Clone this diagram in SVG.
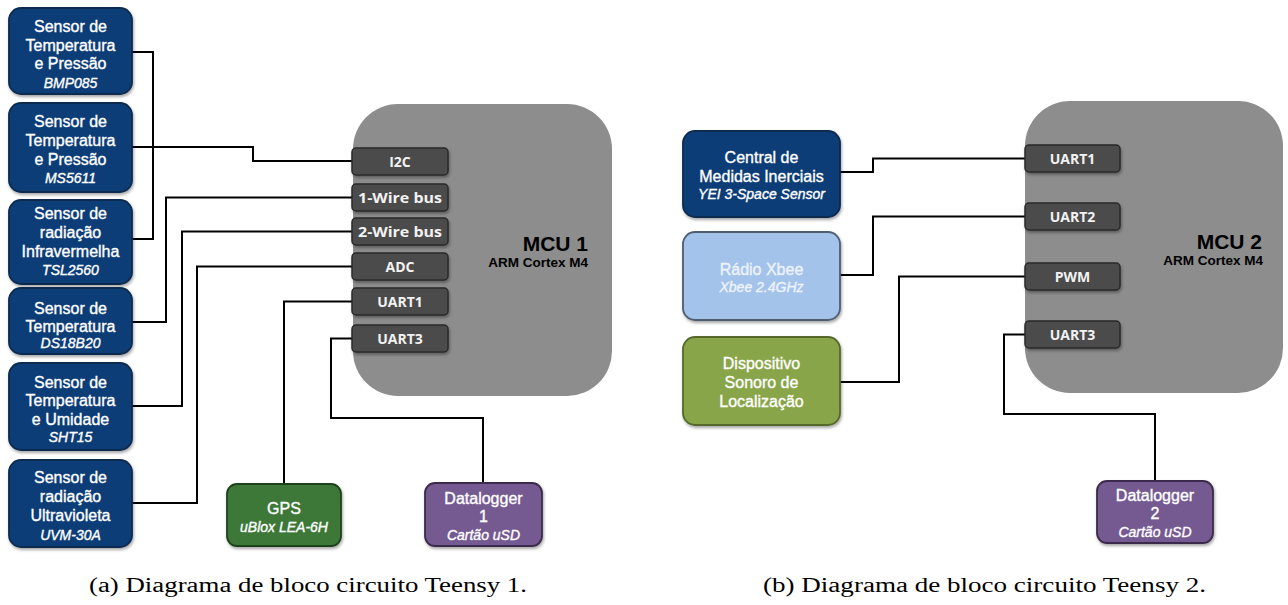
<svg xmlns="http://www.w3.org/2000/svg" width="1288" height="605" viewBox="0 0 1288 605">
<defs>
<filter id="sh" x="-10%" y="-10%" width="125%" height="130%">
<feDropShadow dx="1" dy="2" stdDeviation="1.5" flood-color="#000" flood-opacity="0.35"/>
</filter>
</defs>
<style>
.t{font-family:"Liberation Sans",Arial,sans-serif;font-size:16px;fill:#fff;stroke:#fff;stroke-width:0.35;text-anchor:middle}
.i{font-style:italic;font-size:14px}
.xb{fill:#eef3fb;stroke:#eef3fb}
.blue{fill:#0e3e77;stroke:#092a50;stroke-width:1.8}
.green{fill:#3d7837;stroke:#1f431c;stroke-width:1.8}
.olive{fill:#89a548;stroke:#56692b;stroke-width:1.8}
.light{fill:#a4c3ea;stroke:#4f5d70;stroke-width:1.8}
.purple{fill:#745a91;stroke:#3a2c4a;stroke-width:1.8}
.mcu{fill:#8d8d8d}
.port{fill:#4b4b4b;stroke:#2a2a2a;stroke-width:1.5}
.pt{font-family:"Open Sans","Liberation Sans",sans-serif;font-weight:bold;font-size:14px;fill:#f2f2f2;text-anchor:middle}
.ml{font-family:"Liberation Sans",Arial,sans-serif;font-weight:bold;fill:#000;text-anchor:end}
.c{fill:none;stroke:#000;stroke-width:2}
.cap{font-family:"Liberation Serif","Times New Roman",serif;font-size:20px;fill:#000}
</style>
<rect width="1288" height="605" fill="#fff"/>

<g id="connectors">
<path class="c" d="M132,52 H153 V239 H132"/>
<path class="c" d="M132,147 H253 V161 H352"/>
<path class="c" d="M352,197.5 H166 V322 H132"/>
<path class="c" d="M352,231.5 H182 V406 H132"/>
<path class="c" d="M352,266.5 H197 V503 H132"/>
<path class="c" d="M352,301.5 H284 V484"/>
<path class="c" d="M352,338.5 H331 V418 H483 V483"/>
<path class="c" d="M840,172 H873 V158.5 H1025"/>
<path class="c" d="M840,275 H873 V216.5 H1025"/>
<path class="c" d="M840,382 H899 V276.5 H1025"/>
<path class="c" d="M1025,334.5 H1004 V414 H1155 V481"/>
</g>

<g id="mcu1">
<rect class="mcu" x="353" y="104" width="259" height="292" rx="45"/>
<text class="ml" x="588" y="251" font-size="21">MCU 1</text>
<text class="ml" x="588" y="267" font-size="13.5">ARM Cortex M4</text>
</g>
<g id="mcu1-ports">
<g id="p-i2c"><rect class="port" filter="url(#sh)" x="352" y="148" width="96" height="27" rx="4"/><text class="pt" x="400" y="166.5">I2C</text></g>
<g id="p-1wire"><rect class="port" filter="url(#sh)" x="352" y="184" width="96" height="27" rx="4"/><text class="pt" x="400" y="202.5" textLength="84" lengthAdjust="spacingAndGlyphs">1-Wire bus</text></g>
<g id="p-2wire"><rect class="port" filter="url(#sh)" x="352" y="218" width="96" height="27" rx="4"/><text class="pt" x="400" y="236.5" textLength="84" lengthAdjust="spacingAndGlyphs">2-Wire bus</text></g>
<g id="p-adc"><rect class="port" filter="url(#sh)" x="352" y="253" width="96" height="27" rx="4"/><text class="pt" x="400" y="271.5">ADC</text></g>
<g id="p-uart1a"><rect class="port" filter="url(#sh)" x="352" y="288" width="96" height="27" rx="4"/><text class="pt" x="400" y="306.5">UART1</text></g>
<g id="p-uart3a"><rect class="port" filter="url(#sh)" x="352" y="325" width="96" height="27" rx="4"/><text class="pt" x="400" y="343.5">UART3</text></g>
</g>

<g id="s-bmp085">
<rect class="blue" filter="url(#sh)" x="9" y="8" width="123" height="86" rx="12"/>
<text class="t" x="70.5" y="31.5">Sensor de</text>
<text class="t" x="70.5" y="50.5">Temperatura</text>
<text class="t" x="70.5" y="69">e Pressão</text>
<text class="t i" x="70.5" y="88">BMP085</text>
</g>
<g id="s-ms5611">
<rect class="blue" filter="url(#sh)" x="9" y="103" width="123" height="89" rx="12"/>
<text class="t" x="70.5" y="126.5">Sensor de</text>
<text class="t" x="70.5" y="145.5">Temperatura</text>
<text class="t" x="70.5" y="165">e Pressão</text>
<text class="t i" x="70.5" y="183">MS5611</text>
</g>
<g id="s-tsl2560">
<rect class="blue" filter="url(#sh)" x="9" y="200" width="123" height="84" rx="12"/>
<text class="t" x="70.5" y="218.5">Sensor de</text>
<text class="t" x="70.5" y="237.5">radiação</text>
<text class="t" x="70.5" y="257">Infravermelha</text>
<text class="t i" x="70.5" y="275">TSL2560</text>
</g>
<g id="s-ds18b20">
<rect class="blue" filter="url(#sh)" x="9" y="288" width="123" height="66" rx="12"/>
<text class="t" x="70.5" y="313.5">Sensor de</text>
<text class="t" x="70.5" y="331.5">Temperatura</text>
<text class="t i" x="70.5" y="348">DS18B20</text>
</g>
<g id="s-sht15">
<rect class="blue" filter="url(#sh)" x="9" y="363" width="123" height="87" rx="12"/>
<text class="t" x="70.5" y="387.5">Sensor de</text>
<text class="t" x="70.5" y="405.5">Temperatura</text>
<text class="t" x="70.5" y="424.5">e Umidade</text>
<text class="t i" x="70.5" y="442">SHT15</text>
</g>
<g id="s-uvm30a">
<rect class="blue" filter="url(#sh)" x="9" y="460" width="123" height="87" rx="12"/>
<text class="t" x="70.5" y="482.5">Sensor de</text>
<text class="t" x="70.5" y="502">radiação</text>
<text class="t" x="70.5" y="521">Ultravioleta</text>
<text class="t i" x="70.5" y="540">UVM-30A</text>
</g>
<g id="gps">
<rect class="green" filter="url(#sh)" x="227" y="484" width="114" height="62" rx="10"/>
<text class="t" x="284" y="513.5">GPS</text>
<text class="t i" x="284" y="532">uBlox LEA-6H</text>
</g>
<g id="datalogger1">
<rect class="purple" filter="url(#sh)" x="425" y="483" width="117" height="63" rx="10"/>
<text class="t" x="483.5" y="503.5">Datalogger</text>
<text class="t" x="483.5" y="522">1</text>
<text class="t i" x="483.5" y="540">Cartão uSD</text>
</g>

<g id="mcu2">
<rect class="mcu" x="1025" y="101" width="258" height="292" rx="45"/>
<text class="ml" x="1262" y="249" font-size="21">MCU 2</text>
<text class="ml" x="1263" y="265" font-size="13.5">ARM Cortex M4</text>
</g>
<g id="mcu2-ports">
<g id="p-uart1b"><rect class="port" filter="url(#sh)" x="1025" y="145" width="95" height="27" rx="4"/><text class="pt" x="1072.5" y="163.5">UART1</text></g>
<g id="p-uart2b"><rect class="port" filter="url(#sh)" x="1025" y="203" width="95" height="27" rx="4"/><text class="pt" x="1072.5" y="221.5">UART2</text></g>
<g id="p-pwm"><rect class="port" filter="url(#sh)" x="1025" y="263" width="95" height="27" rx="4"/><text class="pt" x="1072.5" y="281.5">PWM</text></g>
<g id="p-uart3b"><rect class="port" filter="url(#sh)" x="1025" y="321" width="95" height="27" rx="4"/><text class="pt" x="1072.5" y="339.5">UART3</text></g>
</g>
<g id="imu">
<rect class="blue" filter="url(#sh)" x="683" y="131" width="157" height="86" rx="12"/>
<text class="t" x="761.5" y="162.5">Central de</text>
<text class="t" x="761.5" y="181.5">Medidas Inerciais</text>
<text class="t i" x="761.5" y="199">YEI 3-Space Sensor</text>
</g>
<g id="xbee">
<rect class="light" filter="url(#sh)" x="683" y="232" width="157" height="88" rx="12"/>
<text class="t xb" x="761.5" y="274.5">Rádio Xbee</text>
<text class="t i xb" x="761.5" y="292">Xbee 2.4GHz</text>
</g>
<g id="sonoro">
<rect class="olive" filter="url(#sh)" x="683" y="337" width="157" height="88" rx="12"/>
<text class="t" x="761.5" y="368.5">Dispositivo</text>
<text class="t" x="761.5" y="387.5">Sonoro de</text>
<text class="t" x="761.5" y="406.5">Localização</text>
</g>
<g id="datalogger2">
<rect class="purple" filter="url(#sh)" x="1097" y="481" width="116" height="62" rx="10"/>
<text class="t" x="1155" y="500.5">Datalogger</text>
<text class="t" x="1155" y="518.5">2</text>
<text class="t i" x="1155" y="537">Cartão uSD</text>
</g>

<text class="cap" x="89" y="592" textLength="438" lengthAdjust="spacingAndGlyphs">(a) Diagrama de bloco circuito Teensy 1.</text>
<text class="cap" x="763" y="592" textLength="443" lengthAdjust="spacingAndGlyphs">(b) Diagrama de bloco circuito Teensy 2.</text>
</svg>
